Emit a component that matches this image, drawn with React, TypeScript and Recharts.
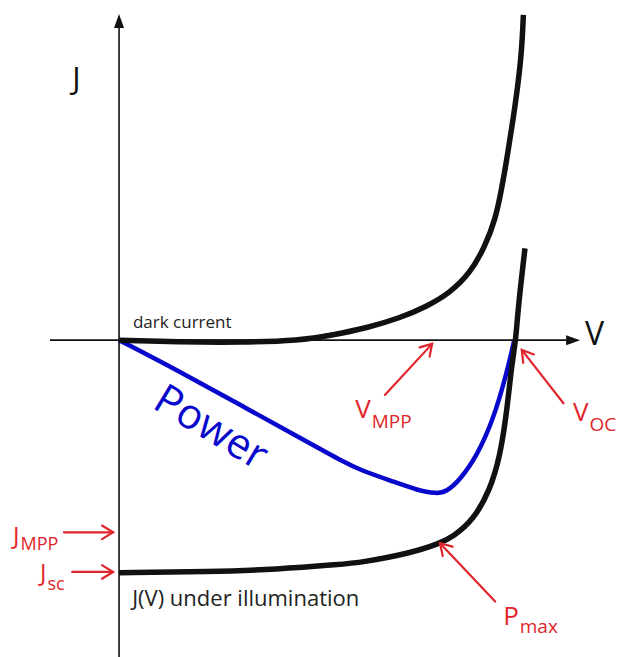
import React from "react";
import { LineChart, Line, XAxis, YAxis, ReferenceLine, ReferenceDot } from "recharts";

// J(V) characteristic of a solar cell, arbitrary units (V_oc = 1, J_sc = -1)
const darkV = [0, 0.154, 0.305, 0.456, 0.539, 0.624, 0.708, 0.775, 0.834, 0.885, 0.922, 0.948, 0.964, 0.981, 0.994, 1.006, 1.015, 1.019];
const darkJ = [0, -0.008, -0.01, -0.002, 0.022, 0.052, 0.095, 0.144, 0.203, 0.288, 0.401, 0.516, 0.645, 0.816, 0.958, 1.104, 1.246, 1.396];

const lightV = [0, 0.229, 0.397, 0.561, 0.607, 0.733, 0.809, 0.842, 0.893, 0.935, 0.96, 0.977, 0.99, 1.0, 1.006, 1.023];
const lightJ = [-0.998, -0.994, -0.984, -0.962, -0.955, -0.915, -0.872, -0.843, -0.772, -0.643, -0.5, -0.312, -0.098, 0, 0.144, 0.394];

const powerV = [0, 0.145, 0.313, 0.481, 0.565, 0.607, 0.691, 0.75, 0.8, 0.826, 0.859, 0.901, 0.943, 0.977, 0.996];
const powerJ = [0, -0.128, -0.285, -0.443, -0.522, -0.557, -0.607, -0.643, -0.66, -0.65, -0.6, -0.5, -0.343, -0.142, 0];

const toPoints = (vs: number[], js: number[]) => vs.map((v, i) => ({ v, j: js[i] }));
const darkData = toPoints(darkV, darkJ);
const lightData = toPoints(lightV, lightJ);
const powerData = toPoints(powerV, powerJ);

const RED = "#e0262c";
const BLUE = "#0808cc";
const INK = "#111";
const FONT = "'Open Sans', sans-serif";

// axis line with a filled triangular head at the second end
const AxisArrow = (p: any) => {
  const { x1, y1, x2, y2 } = p;
  const a = Math.atan2(y2 - y1, x2 - x1);
  const len = 14, half = 5;
  const bx = x2 - len * Math.cos(a), by = y2 - len * Math.sin(a);
  const nx = -Math.sin(a) * half, ny = Math.cos(a) * half;
  return (
    <g>
      <line x1={x1} y1={y1} x2={bx} y2={by} stroke={INK} strokeWidth={1.6} />
      <polygon points={`${x2},${y2} ${bx + nx},${by + ny} ${bx - nx},${by - ny}`} fill={INK} />
    </g>
  );
};

// thin red pointer with an open head
const Pointer = (p: any) => {
  const { x1, y1, x2, y2 } = p;
  const a = Math.atan2(y2 - y1, x2 - x1);
  const len = 13, spread = 0.55;
  const h1x = x2 - len * Math.cos(a - spread), h1y = y2 - len * Math.sin(a - spread);
  const h2x = x2 - len * Math.cos(a + spread), h2y = y2 - len * Math.sin(a + spread);
  return (
    <g stroke={RED} strokeWidth={2.2} fill="none" strokeLinecap="round">
      <line x1={x1} y1={y1} x2={x2} y2={y2} />
      <polyline points={`${h1x},${h1y} ${x2},${y2} ${h2x},${h2y}`} />
    </g>
  );
};

const textAt = (main: string, opts: { size: number; fill: string; sub?: string; subSize?: number; subDy?: number }) => (p: any) => (
  <text x={p.cx} y={p.cy} fontFamily={FONT} fontSize={opts.size} fill={opts.fill}>
    {main}
    {opts.sub && (
      <tspan fontSize={opts.subSize} dy={opts.subDy} dx={1}>
        {opts.sub}
      </tspan>
    )}
  </text>
);

const powerLabel = (p: any) => (
  <text
    x={p.cx}
    y={p.cy}
    fontFamily={FONT}
    fontSize={42}
    fill={BLUE}
    textAnchor="middle"
    dominantBaseline="central"
    transform={`rotate(31 ${p.cx} ${p.cy})`}
  >
    Power
  </text>
);

export default function App() {
  return (
    <div style={{ position: "absolute", left: 0, top: 0, width: 619, height: 657, background: "#fff" }}>
      <LineChart width={619} height={657} margin={{ top: 0, right: 0, bottom: 0, left: 0 }}>
        <XAxis type="number" dataKey="v" domain={[-0.3, 1.26]} hide allowDataOverflow />
        <YAxis type="number" dataKey="j" domain={[-1.36, 1.46]} hide allowDataOverflow />

        <ReferenceLine segment={[{ x: 0, y: -1.36 }, { x: 0, y: 1.4 }]} shape={AxisArrow} />
        <ReferenceLine segment={[{ x: -0.174, y: 0 }, { x: 1.162, y: 0 }]} shape={AxisArrow} />

        <Line data={powerData} dataKey="j" type="basis" stroke={BLUE} strokeWidth={4.5} dot={false} activeDot={false} isAnimationActive={false} />
        <Line data={darkData} dataKey="j" type="basis" stroke={INK} strokeWidth={5.5} dot={false} activeDot={false} isAnimationActive={false} />
        <Line data={lightData} dataKey="j" type="basis" stroke={INK} strokeWidth={5.5} dot={false} activeDot={false} isAnimationActive={false} />

        <ReferenceLine segment={[{ x: 0.67, y: -0.235 }, { x: 0.789, y: -0.016 }]} shape={Pointer} />
        <ReferenceLine segment={[{ x: 1.12, y: -0.271 }, { x: 1.015, y: -0.042 }]} shape={Pointer} />
        <ReferenceLine segment={[{ x: 0.948, y: -1.122 }, { x: 0.809, y: -0.872 }]} shape={Pointer} />
        <ReferenceLine segment={[{ x: -0.139, y: -0.825 }, { x: -0.015, y: -0.825 }]} shape={Pointer} />
        <ReferenceLine segment={[{ x: -0.118, y: -0.995 }, { x: -0.015, y: -0.995 }]} shape={Pointer} />

        <ReferenceDot x={-0.118} y={1.078} shape={textAt("J", { size: 31, fill: INK })} />
        <ReferenceDot x={1.174} y={-0.021} shape={textAt("V", { size: 32, fill: INK })} />
        <ReferenceDot x={0.035} y={0.052} shape={textAt("dark current", { size: 17, fill: "#222" })} />
        <ReferenceDot x={0.033} y={-1.141} shape={textAt("J(V) under illumination", { size: 22, fill: "#222" })} />
        <ReferenceDot x={0.236} y={-0.364} shape={powerLabel} />

        <ReferenceDot x={0.595} y={-0.334} shape={textAt("V", { size: 26, fill: RED, sub: "MPP", subSize: 19, subDy: 10 })} />
        <ReferenceDot x={1.144} y={-0.347} shape={textAt("V", { size: 26, fill: RED, sub: "OC", subSize: 19, subDy: 10 })} />
        <ReferenceDot x={0.968} y={-1.222} shape={textAt("P", { size: 26, fill: RED, sub: "max", subSize: 19, subDy: 8 })} />
        <ReferenceDot x={-0.267} y={-0.875} shape={textAt("J", { size: 24, fill: RED, sub: "MPP", subSize: 18, subDy: 6 })} />
        <ReferenceDot x={-0.199} y={-1.034} shape={textAt("J", { size: 24, fill: RED, sub: "sc", subSize: 18, subDy: 9 })} />
      </LineChart>
    </div>
  );
}
